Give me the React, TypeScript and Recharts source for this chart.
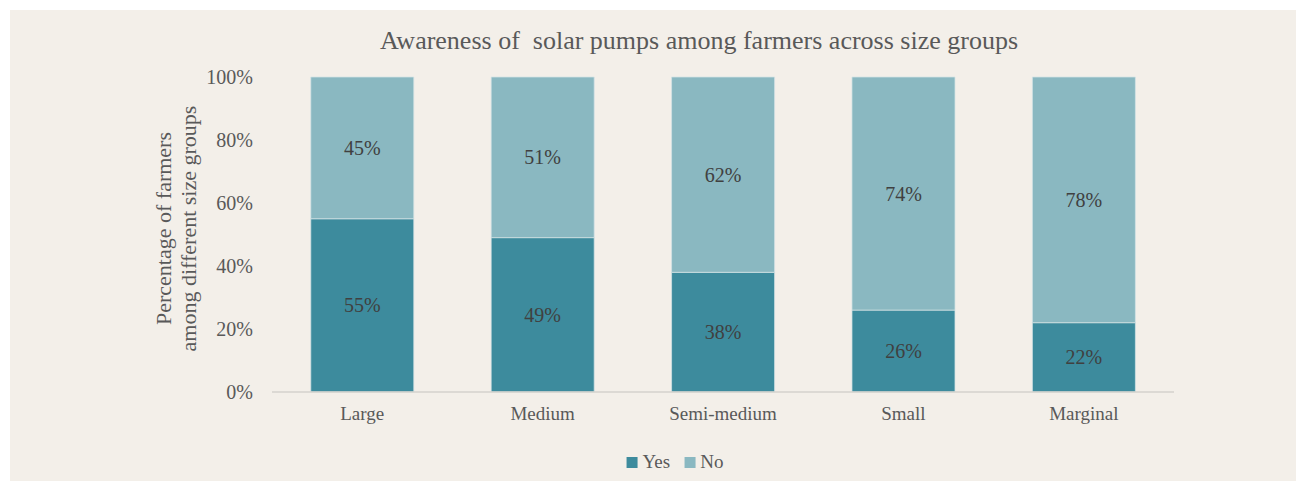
import { BarChart, Bar, XAxis, YAxis, LabelList } from "recharts";

const groups = ["Large", "Medium", "Semi-medium", "Small", "Marginal"];
const yesValues = [55, 49, 38, 26, 22];
const noValues = [45, 51, 62, 74, 78];
const yTicks = [0, 20, 40, 60, 80, 100];

const YES_COLOR = "#3D8B9D";
const NO_COLOR = "#8AB8C1";
const TEXT = "#595959";
const FONT = "'Liberation Serif', 'Times New Roman', serif";

const data = groups.map((g, i) => ({ group: g, yes: yesValues[i], no: noValues[i] }));

function YLabel(props: any) {
  const vb = props.viewBox || { x: 0, y: 0, height: 0 };
  const cy = vb.y + vb.height / 2 - 6;
  const x1 = 153;
  const x2 = 178;
  return (
    <g fill={TEXT} fontFamily={FONT} fontSize={22} textAnchor="middle">
      <text x={x1} y={cy} transform={`rotate(-90 ${x1} ${cy})`} dy="0.35em">
        Percentage of farmers
      </text>
      <text x={x2} y={cy} transform={`rotate(-90 ${x2} ${cy})`} dy="0.35em">
        among different size groups
      </text>
    </g>
  );
}

export default function App() {
  return (
    <div
      style={{
        position: "absolute",
        left: 10,
        top: 10,
        width: 1286,
        height: 471,
        background: "#F3EFE9",
        fontFamily: FONT,
        overflow: "hidden",
      }}
    >
      <div
        style={{
          position: "absolute",
          left: 689,
          top: 16,
          transform: "translateX(-50%)",
          whiteSpace: "nowrap",
          fontSize: 26,
          color: TEXT,
        }}
      >
        Awareness of&nbsp; solar pumps among farmers across size groups
      </div>
      <BarChart
        width={1286}
        height={471}
        data={data}
        margin={{ top: 67, right: 122, bottom: 59, left: 202 }}
        barCategoryGap="21.5%"
      >
        <XAxis
          dataKey="group"
          height={30}
          axisLine={{ stroke: "#D5D2CC", strokeWidth: 1.5 }}
          tickLine={false}
          tickSize={0}
          tickMargin={15}
          tick={{ fill: TEXT, fontSize: 19, fontFamily: FONT }}
        />
        <YAxis
          width={60}
          domain={[0, 100]}
          ticks={yTicks}
          axisLine={false}
          tickLine={false}
          tickSize={0}
          tickMargin={19}
          tickFormatter={(v: number) => `${v}%`}
          tick={{ fill: TEXT, fontSize: 20, fontFamily: FONT }}
          label={{ content: YLabel }}
        />
        <Bar dataKey="yes" stackId="a" fill={YES_COLOR} stroke="#D4E3E5" strokeWidth={0.75} isAnimationActive={false}>
          <LabelList
            dataKey="yes"
            position="center"
            formatter={(v: any) => `${v}%`}
            style={{ fill: "#404040", fontSize: 20, fontFamily: FONT }}
          />
        </Bar>
        <Bar dataKey="no" stackId="a" fill={NO_COLOR} stroke="#D4E3E5" strokeWidth={0.75} isAnimationActive={false}>
          <LabelList
            dataKey="no"
            position="center"
            formatter={(v: any) => `${v}%`}
            style={{ fill: "#404040", fontSize: 20, fontFamily: FONT }}
          />
        </Bar>
      </BarChart>
      <div
        style={{
          position: "absolute",
          left: 665,
          top: 441,
          transform: "translateX(-50%)",
          display: "flex",
          alignItems: "center",
          fontSize: 19,
          color: TEXT,
          whiteSpace: "nowrap",
        }}
      >
        <span style={{ width: 11, height: 11, background: YES_COLOR, display: "inline-block", marginRight: 5 }} />
        <span style={{ marginRight: 14 }}>Yes</span>
        <span style={{ width: 11, height: 11, background: NO_COLOR, display: "inline-block", marginRight: 5 }} />
        <span>No</span>
      </div>
    </div>
  );
}
